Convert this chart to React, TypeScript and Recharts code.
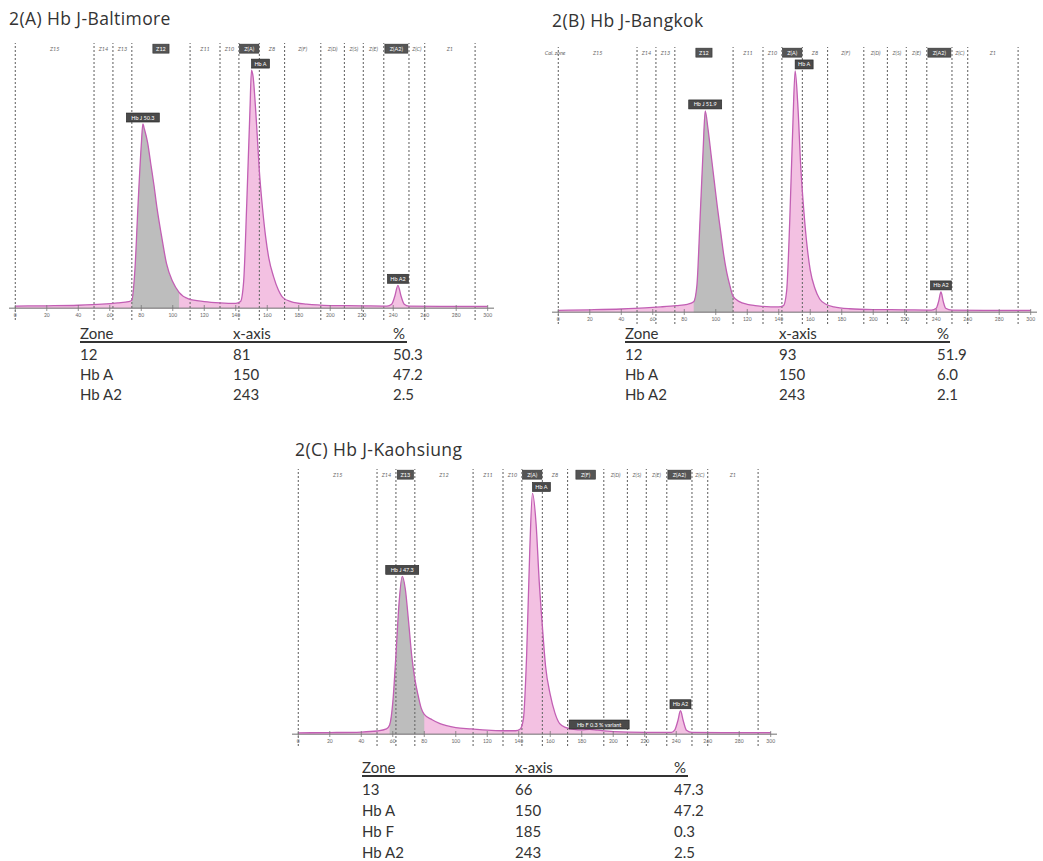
import React from 'react';
import { ComposedChart, Area, Line, XAxis, YAxis, ReferenceLine, ReferenceArea, ReferenceDot } from 'recharts';

// zone boundaries on the migration axis, shared by the three runs
const ZONE_BOUNDS = [0, 50, 62, 74, 111, 130, 142, 155, 171, 194, 209, 221, 234, 250, 260, 292];
const ZONE_NAMES = ['Z15', 'Z14', 'Z13', 'Z12', 'Z11', 'Z10', 'Z(A)', 'Z8', 'Z(F)', 'Z(D)', 'Z(S)', 'Z(E)', 'Z(A2)', 'Z(C)', 'Z1'];
const X_TICKS = [0, 20, 40, 60, 80, 100, 120, 140, 160, 180, 200, 220, 240, 260, 280, 300];

// 2(A) Hb J-Baltimore
const A_POS = [0, 20, 40, 55, 65, 72, 74, 76, 78, 80, 81, 82, 84, 86, 88, 90, 93, 96, 100, 104, 110, 120, 130, 140, 143, 145, 147, 149, 150, 151, 153, 155, 157, 159, 161, 164, 167, 170, 175, 185, 200, 220, 236, 239, 241, 243, 245, 247, 250, 270, 300];
const A_SIGNAL = [0.8, 0.9, 1.1, 1.5, 2, 2.5, 3, 15, 40, 62, 70, 68, 63, 55, 47, 38, 27, 17, 10, 6, 3.5, 2.5, 2, 1.8, 2.5, 10, 40, 75, 90.5, 88, 72, 52, 38, 27, 19, 12, 7, 4, 2.5, 1.5, 1, 0.9, 0.8, 1.5, 4.5, 8.7, 4.5, 1.5, 0.8, 0.7, 0.7];
const A_VARIANT = [74, 104];
const A_BOXED = ['Z12', 'Z(A)', 'Z(A2)'];
const A_PEAKS = [
  { x: 81, y: 70, text: 'Hb J 50.3', align: 'center' },
  { x: 150, y: 90.5, text: 'Hb A', align: 'right' },
  { x: 243, y: 8.7, text: 'Hb A2', align: 'center' },
];
const A_ROWS = [['12', '81', '50.3'], ['Hb A', '150', '47.2'], ['Hb A2', '243', '2.5']];

// 2(B) Hb J-Bangkok
const B_POS = [0, 20, 40, 55, 65, 75, 82, 86, 88, 90, 92, 93.3, 95, 97, 99, 101, 103, 105, 107, 109, 111, 115, 120, 125, 135, 140, 143, 145, 147, 149, 150.4, 152, 154, 156, 158, 160, 163, 166, 170, 175, 185, 200, 220, 237, 240, 241.5, 243, 244.5, 246, 250, 270, 300];
const B_SIGNAL = [0.7, 0.9, 1.2, 1.6, 2, 2.5, 3, 4, 10, 35, 62, 76.5, 70, 60, 50, 40, 31, 22, 15, 10, 6, 4, 3, 2.5, 2, 2, 2.5, 8, 35, 72, 91.7, 80, 55, 38, 25, 16, 9, 5, 3, 2, 1.3, 1, 0.9, 0.8, 1.5, 4, 7.7, 4, 1.5, 0.8, 0.7, 0.7];
const B_VARIANT = [86, 113];
const B_BOXED = ['Z12', 'Z(A)', 'Z(A2)'];
const B_PEAKS = [
  { x: 93.3, y: 76.5, text: 'Hb J 51.9', align: 'center' },
  { x: 150.4, y: 91.7, text: 'Hb A', align: 'right' },
  { x: 243, y: 7.7, text: 'Hb A2', align: 'center' },
];
const B_ROWS = [['12', '93', '51.9'], ['Hb A', '150', '6.0'], ['Hb A2', '243', '2.1']];

// 2(C) Hb J-Kaohsiung
const C_POS = [0, 20, 40, 50, 56, 58, 60, 62, 64, 66, 68, 70, 72, 74, 76, 78, 80, 85, 90, 100, 110, 120, 130, 138, 141, 143, 145, 147, 148.7, 151, 153, 155, 157, 160, 163, 166, 170, 175, 180, 185, 190, 200, 220, 237, 239, 241, 242.7, 244.5, 246.5, 250, 270, 300];
const C_SIGNAL = [0.5, 0.6, 0.8, 1.2, 2, 3.5, 12, 30, 50, 60, 55, 43, 30, 21, 15, 10, 7.5, 5.5, 4, 2.5, 2, 1.5, 1.3, 1.3, 2, 6, 30, 70, 91.5, 80, 58, 41, 26, 15, 8, 4, 2.5, 1.8, 1.6, 1.8, 1.5, 1, 0.7, 0.7, 1.5, 5, 8.9, 5, 1.5, 0.7, 0.6, 0.6];
const C_VARIANT = [58, 82];
const C_BOXED = ['Z13', 'Z(A)', 'Z(F)', 'Z(A2)'];
const C_PEAKS = [
  { x: 66, y: 60, text: 'Hb J 47.3', align: 'center' },
  { x: 148.7, y: 91.5, text: 'Hb A', align: 'right' },
  { x: 172, y: 1.2, text: 'Hb F 0.3 % variant', align: 'right' },
  { x: 242.7, y: 8.9, text: 'Hb A2', align: 'center' },
];
const C_ROWS = [['13', '66', '47.3'], ['Hb A', '150', '47.2'], ['Hb F', '185', '0.3'], ['Hb A2', '243', '2.5']];

const FONT = 'Lato, "Open Sans", sans-serif';
const TITLE_FONT = '"Open Sans", Lato, sans-serif';
const LINE_COLOR = '#c25fb4';
const PINK = '#f3c1e2';
const GREY = '#bdbdbd';
const PAD = 14; // room left of the axis for the calibration label

const renderTick = (props: any) => {
  const { x, y, payload } = props;
  return (
    <g>
      <line x1={x} x2={x} y1={y - 15} y2={y - 9} stroke="#777" strokeWidth={0.8} />
      <text x={x} y={y - 3} textAnchor="middle" fontSize={5} fill="#666" fontFamily={FONT}>{payload.value}</text>
    </g>
  );
};

const zoneLabel = (name: string, boxed: boolean) => (props: any) => {
  const vb = props.viewBox;
  if (!vb) return null;
  const cx = vb.x + vb.width / 2;
  const cy = vb.y + vb.height / 2;
  if (boxed) {
    const w = Math.min(vb.width - 1, name.length * 3.4 + 6);
    return (
      <g>
        <rect x={cx - w / 2} y={cy - 4.5} width={w} height={9} fill="#555" stroke="#333" strokeWidth={0.6} />
        <text x={cx} y={cy + 2} textAnchor="middle" fontSize={5.5} fill="#fff" fontFamily={FONT}>{name}</text>
      </g>
    );
  }
  return (
    <text x={cx} y={cy + 2} textAnchor="middle" fontSize={5.5} fontStyle="italic" fill="#666" fontFamily={FONT}>{name}</text>
  );
};

const peakLabel = (text: string, align: string) => (props: any) => {
  const vb = props.viewBox;
  if (!vb) return null;
  const cx = vb.x + vb.width / 2;
  const top = vb.y + vb.height / 2;
  const w = text.length * 3 + 6;
  const left = align === 'right' ? cx : cx - w / 2;
  return (
    <g>
      <rect x={left} y={top - 11} width={w} height={9} fill="#4a4a4a" stroke="#222" strokeWidth={0.6} />
      <text x={left + w / 2} y={top - 4.5} textAnchor="middle" fontSize={5.5} fill="#fff" fontFamily={FONT}>{text}</text>
    </g>
  );
};

interface RunProps {
  left: number;
  top: number;
  pos: number[];
  signal: number[];
  variant: number[];
  boxed: string[];
  peaks: { x: number; y: number; text: string; align: string }[];
  extraZone?: string;
}

const Electropherogram: React.FC<RunProps> = ({ left, top, pos, signal, variant, boxed, peaks, extraZone }) => {
  const data = pos.map((x, i) => ({
    x,
    y: signal[i],
    v: x >= variant[0] && x <= variant[1] ? signal[i] : null,
  }));
  return (
    <div style={{ position: 'absolute', left: left - PAD, top }}>
      <ComposedChart width={485 + PAD} height={278} data={data} margin={{ top: 0, right: 0, left: PAD, bottom: 0 }}>
        <XAxis dataKey="x" type="number" domain={[-4, 304]} ticks={X_TICKS} allowDataOverflow
          axisLine={false} tickLine={false} tickSize={0} tickMargin={0} height={1} tick={renderTick} interval={0} />
        <YAxis hide type="number" domain={[-4.5, 100.8]} allowDataOverflow />
        <Area type="monotone" dataKey="y" stroke="none" fill={PINK} fillOpacity={1} isAnimationActive={false} />
        <Area type="monotone" dataKey="v" stroke="none" fill={GREY} fillOpacity={1} isAnimationActive={false} connectNulls={false} />
        {ZONE_BOUNDS.map((b) => (
          <ReferenceLine key={b} x={b} stroke="#6b6b6b" strokeWidth={1.1} strokeDasharray="2 2" />
        ))}
        <ReferenceLine y={0} stroke="#6f6f6f" strokeWidth={1} />
        <Line type="monotone" dataKey="y" stroke={LINE_COLOR} strokeWidth={1.3} dot={false} isAnimationActive={false} />
        {ZONE_NAMES.map((name, i) => (
          <ReferenceArea key={name} x1={ZONE_BOUNDS[i]} x2={ZONE_BOUNDS[i + 1]} y1={96.5} y2={100.8}
            fillOpacity={0} strokeOpacity={0} label={zoneLabel(name, boxed.includes(name))} />
        ))}
        {extraZone && (
          <ReferenceArea x1={-4} x2={0} y1={96.5} y2={100.8} fillOpacity={0} strokeOpacity={0}
            label={zoneLabel(extraZone, false)} />
        )}
        {peaks.map((p) => (
          <ReferenceDot key={p.text} x={p.x} y={p.y} r={1} fillOpacity={0} strokeOpacity={0}
            label={peakLabel(p.text, p.align)} />
        ))}
      </ComposedChart>
    </div>
  );
};

interface TableProps {
  left: number;
  top: number;
  cols: number[];
  width: number;
  firstRow: number;
  rowGap: number;
  rows: string[][];
}

const ZoneTable: React.FC<TableProps> = ({ left, top, cols, width, firstRow, rowGap, rows }) => {
  const cell = (text: string, x: number, y: number, key: string) => (
    <div key={key} style={{ position: 'absolute', left: x, top: y, fontSize: 15, lineHeight: '16px', color: '#333', whiteSpace: 'nowrap' }}>{text}</div>
  );
  return (
    <div style={{ position: 'absolute', left, top, fontFamily: FONT }}>
      {['Zone', 'x-axis', '%'].map((h, i) => cell(h, cols[i], 0, 'h' + i))}
      <div style={{ position: 'absolute', left: 0, top: 16, width, borderTop: '2px solid #333' }} />
      {rows.map((r, j) => r.map((t, i) => cell(t, cols[i], firstRow + rowGap * j, `${j}-${i}`)))}
    </div>
  );
};

const titleStyle: React.CSSProperties = {
  position: 'absolute', fontFamily: TITLE_FONT, fontSize: 17.5, letterSpacing: 0.4, color: '#333', whiteSpace: 'nowrap', lineHeight: '20px',
};

export default function App() {
  return (
    <div style={{ position: 'absolute', left: 0, top: 0, width: 1043, height: 861, background: '#fff', overflow: 'hidden' }}>
      <div style={{ ...titleStyle, left: 9, top: 8 }}>2(A) Hb J-Baltimore</div>
      <div style={{ ...titleStyle, left: 552, top: 10 }}>2(B) Hb J-Bangkok</div>
      <div style={{ ...titleStyle, left: 295, top: 439 }}>2(C) Hb J-Kaohsiung</div>

      <Electropherogram left={8.7} top={43} pos={A_POS} signal={A_SIGNAL} variant={A_VARIANT} boxed={A_BOXED} peaks={A_PEAKS} />
      <Electropherogram left={551.7} top={47} pos={B_POS} signal={B_SIGNAL} variant={B_VARIANT} boxed={B_BOXED} peaks={B_PEAKS} extraZone="Cal. zone" />
      <Electropherogram left={292} top={469} pos={C_POS} signal={C_SIGNAL} variant={C_VARIANT} boxed={C_BOXED} peaks={C_PEAKS} />

      <ZoneTable left={80} top={325} cols={[0, 153, 313]} width={327} firstRow={21} rowGap={20} rows={A_ROWS} />
      <ZoneTable left={625} top={325} cols={[0, 154, 312]} width={325} firstRow={21} rowGap={20} rows={B_ROWS} />
      <ZoneTable left={362} top={759} cols={[0, 153, 312]} width={326} firstRow={22} rowGap={21} rows={C_ROWS} />
    </div>
  );
}
